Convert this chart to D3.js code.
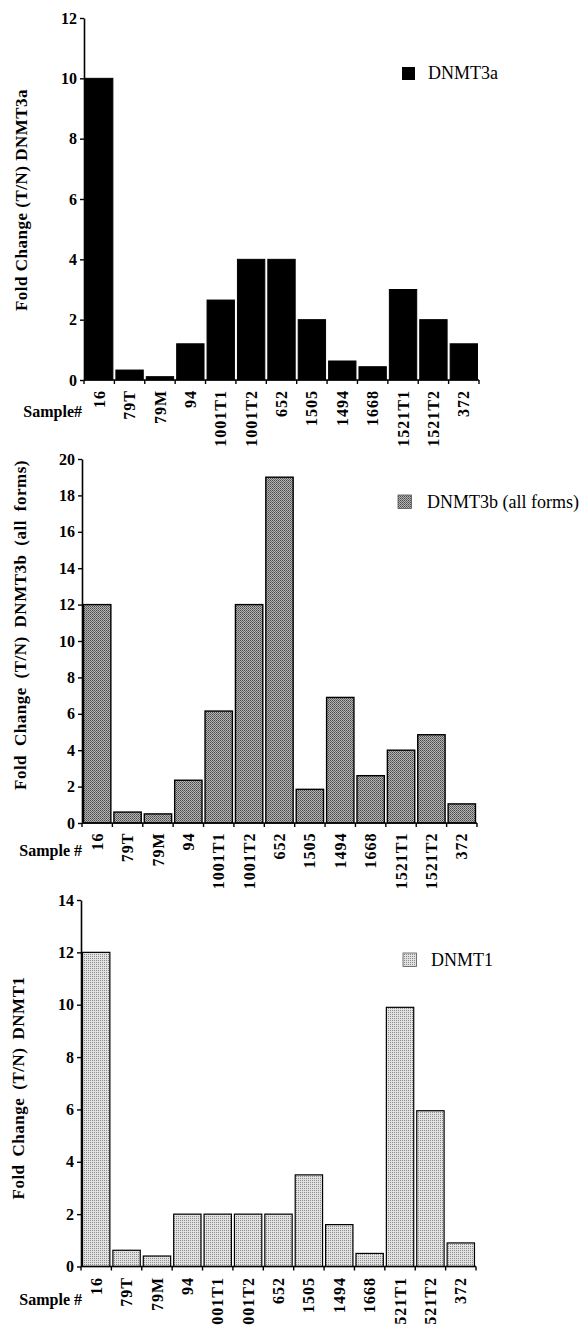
<!DOCTYPE html>
<html>
<head>
<meta charset="utf-8">
<script src="https://cdn.jsdelivr.net/npm/d3@7"></script>
<style>
  body { margin: 0; background: #fff; }
  svg { display: block; font-family: "Times New Roman", "Liberation Serif", serif; }
</style>
</head>
<body>
<div id="chart"></div>
<script>
// samples on the x axis (same for all three panels)
const samples = ["16", "79T", "79M", "94", "1001T1", "1001T2", "652", "1505", "1494", "1668", "1521T1", "1521T2", "372"];

// fold change (T/N)
const dnmt3a = [10, 0.33, 0.11, 1.2, 2.65, 4, 4, 2, 0.63, 0.44, 3, 2, 1.2];
const dnmt3b = [12, 0.6, 0.5, 2.35, 6.15, 12, 19, 1.85, 6.9, 2.6, 4, 4.85, 1.05];
const dnmt1  = [12, 0.62, 0.4, 2, 2, 2, 2, 3.5, 1.6, 0.5, 9.9, 5.95, 0.9];

// y tick labels
const ticks3a = [0, 2, 4, 6, 8, 10, 12];
const ticks3b = [0, 2, 4, 6, 8, 10, 12, 14, 16, 18, 20];
const ticks1  = [0, 2, 4, 6, 8, 10, 12, 14];

const W = 581, H = 1325;
const svg = d3.select("#chart").append("svg").attr("width", W).attr("height", H);

// fill patterns for the stippled bars
const defs = svg.append("defs");
const dark = defs.append("pattern").attr("id", "dark").attr("patternUnits", "userSpaceOnUse")
    .attr("width", 2).attr("height", 2);
dark.append("rect").attr("width", 2).attr("height", 2).attr("fill", "#b4b4b4");
dark.append("rect").attr("width", 1).attr("height", 1).attr("fill", "#4a4a4a");
dark.append("rect").attr("x", 1).attr("y", 1).attr("width", 1).attr("height", 1).attr("fill", "#6a6a6a");
const light = defs.append("pattern").attr("id", "light").attr("patternUnits", "userSpaceOnUse")
    .attr("width", 2).attr("height", 2);
light.append("rect").attr("width", 2).attr("height", 2).attr("fill", "#e2e2e2");
light.append("rect").attr("width", 1).attr("height", 1).attr("fill", "#8a8a8a");

const panels = [
    { values: dnmt3a, ticks: ticks3a, max: 12, x0: 84, x1: 479, yTop: 18, yBot: 380,
      title: "Fold Change (T/N) DNMT3a", titleX: 21, titleY: 200, titleLen: 220,
      legend: "DNMT3a", lx: 402, ly: 67, ls: 13, tx: 428, ty: 79, legStroke: "none",
      fill: "#000", stroke: "#000", sw: 1, sample: "Sample#", sdy: 37, labDy: 10 },
    { values: dnmt3b, ticks: ticks3b, max: 20, x0: 82, x1: 477, yTop: 459, yBot: 823,
      title: "Fold Change (T/N) DNMT3b (all forms)", titleX: 20, titleY: 625, titleLen: 330,
      legend: "DNMT3b (all forms)", lx: 398, ly: 495, ls: 13.5, tx: 427, ty: 508, legStroke: "#555",
      fill: "url(#dark)", stroke: "#000", sw: 1.4, sample: "Sample #", sdy: 33, labDy: 9.5 },
    { values: dnmt1, ticks: ticks1, max: 14, x0: 81, x1: 476, yTop: 900, yBot: 1266.5,
      title: "Fold Change (T/N) DNMT1", titleX: 18, titleY: 1088, titleLen: 223,
      legend: "DNMT1", lx: 403, ly: 953, ls: 13.5, tx: 431, ty: 966, legStroke: "#555",
      fill: "url(#light)", stroke: "#000", sw: 1.2, sample: "Sample #", sdy: 38, labDy: 10.5 }
];

panels.forEach(p => {
    const g = svg.append("g");

    const x = d3.scaleBand().domain(samples).range([p.x0, p.x1])
        .paddingInner(0.1).paddingOuter(0.05);
    const y = d3.scaleLinear().domain([0, p.max]).range([p.yBot, p.yTop]);
    const step = x.step();

    // bars
    g.append("g").selectAll("rect")
        .data(p.values)
        .join("rect")
        .attr("x", (d, i) => x(samples[i]))
        .attr("y", d => y(d))
        .attr("width", x.bandwidth())
        .attr("height", d => y(0) - y(d))
        .attr("fill", p.fill)
        .attr("stroke", p.stroke)
        .attr("stroke-width", p.sw);

    // y axis
    const yAxis = g.append("g")
        .attr("transform", `translate(${p.x0},0)`)
        .call(d3.axisLeft(y).tickValues(p.ticks).tickFormat(d3.format("d"))
            .tickSize(4).tickSizeOuter(0).tickPadding(3));
    yAxis.select(".domain").attr("stroke-width", 1.6);
    yAxis.selectAll(".tick line").attr("stroke-width", 1.4);
    yAxis.selectAll("text").attr("font-family", "'Times New Roman', 'Liberation Serif', serif")
        .attr("font-size", 16).attr("font-weight", "bold").attr("fill", "#000");

    // x axis with ticks at band boundaries
    const bounds = samples.map(s => x(s) - step * 0.05).concat([p.x1]);
    g.append("line").attr("x1", p.x0).attr("x2", p.x1).attr("y1", y(0)).attr("y2", y(0))
        .attr("stroke", "#000").attr("stroke-width", 1.6);
    g.append("g").selectAll("line").data(bounds).join("line")
        .attr("x1", d => d).attr("x2", d => d)
        .attr("y1", y(0)).attr("y2", y(0) + 4)
        .attr("stroke", "#000").attr("stroke-width", 1.4);

    // rotated sample labels
    g.append("g").selectAll("text").data(samples).join("text")
        .attr("transform", d => `translate(${x(d) + x.bandwidth() / 2},${y(0) + p.labDy}) rotate(-90)`)
        .attr("text-anchor", "end")
        .attr("dy", "0.35em")
        .attr("font-size", 16).attr("font-weight", "bold")
        .style("letter-spacing", "1px")
        .text(d => d);

    g.append("text")
        .attr("x", 82).attr("y", y(0) + p.sdy)
        .attr("text-anchor", "end")
        .attr("font-size", 16).attr("font-weight", "bold")
        .text(p.sample);

    // y axis title, word gaps stretched to fit like in the scan
    const title = g.append("text")
        .attr("transform", `translate(${p.titleX},${p.titleY}) rotate(-90)`)
        .attr("text-anchor", "middle")
        .attr("dy", "0.35em")
        .attr("font-size", 17).attr("font-weight", "bold")
        .style("letter-spacing", "0.5px")
        .text(p.title);
    const gaps = p.title.split(" ").length - 1;
    const extra = (p.titleLen - title.node().getComputedTextLength()) / gaps;
    if (extra > 0) title.style("word-spacing", extra + "px");

    // legend
    g.append("rect").attr("x", p.lx).attr("y", p.ly).attr("width", p.ls).attr("height", p.ls)
        .attr("fill", p.fill).attr("stroke", p.legStroke).attr("stroke-width", 0.8);
    g.append("text").attr("x", p.tx).attr("y", p.ty)
        .attr("font-size", 18)
        .text(p.legend);
});
</script>
</body>
</html>
